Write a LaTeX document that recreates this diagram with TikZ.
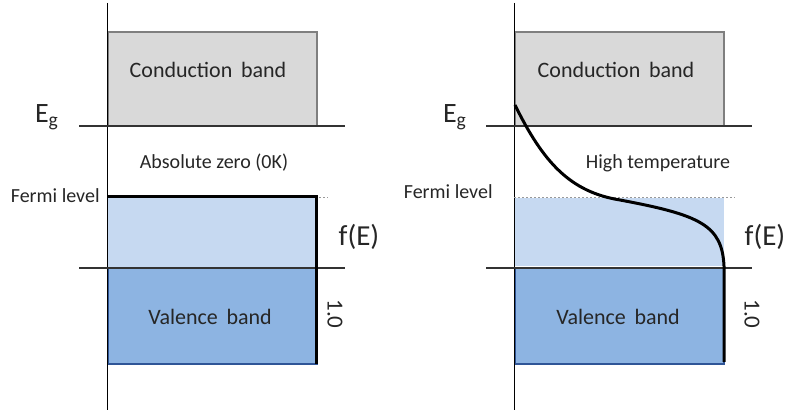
\documentclass[tikz,border=0pt]{standalone}
\usepackage{fontspec}
\setmainfont{Carlito}
\usepackage{tikz}
\usetikzlibrary{positioning,calc}
\definecolor{cbfill}{RGB}{217,217,217}
\definecolor{cbedge}{RGB}{127,127,127}
\definecolor{fermifill}{RGB}{198,217,241}
\definecolor{vbfill}{RGB}{141,180,226}
\definecolor{vbedge}{RGB}{47,85,151}
\definecolor{txt}{RGB}{38,38,38}

\begin{document}
\begin{tikzpicture}[
    x=0.5pt, y=-0.5pt,
    cband/.style={draw=cbedge, fill=cbfill, line width=1.3pt},
    vband/.style={draw=vbedge, fill=vbfill, line width=1pt},
    axis/.style={draw=black, line width=0.5pt},
    level/.style={draw=black!80, line width=0.6pt},
    fline/.style={draw=black!40, line width=0.4pt, dashed, dash pattern=on 1pt off 1pt},
    occ/.style={draw=black, line width=1.5pt},
    lbl/.style={text=txt, inner sep=1pt}
]
    \useasboundingbox (0,0) rectangle (787,415);

    % Absolute zero panel
    \fill[fermifill] (107,197) rectangle (316,267);
    \draw[cband] (108,32) rectangle (317,126);
    \draw[vband] (108,268) rectangle (317,364);
    \draw[axis] (107,3) -- (107,410);
    \draw[level] (79,126) -- (345,126);
    \draw[level] (79,268) -- (345,268);
    \draw[fline] (107,197) -- (328,197);
    \draw[occ] (107,197) -| (316,364);

    \node[lbl, font=\fontsize{11}{13}\selectfont] (cbL) at (208,70) {Conduction\ \,band};
    \node[lbl, font=\fontsize{14}{16}\selectfont] (egL) at (47,117) {E\textsubscript{g}};
    \node[lbl, font=\fontsize{10}{12}\selectfont] (tL) at (214,163) {Absolute zero (0K)};
    \node[lbl, font=\fontsize{10}{12}\selectfont, anchor=east] (efL) at (102,196) {Fermi level};
    \node[lbl, font=\fontsize{14.5}{16}\selectfont] (fL) at (359,237) {f(E)};
    \node[lbl, font=\fontsize{11}{13}\selectfont] (vbL) at (210,317) {Valence\ \,band};
    \node[lbl, font=\fontsize{11.5}{13}\selectfont, rotate=-90] (oneL) at (335,314) {1.0};

    % High temperature panel
    \begin{scope}[shift={(407,0)}]
        \fill[fermifill] (107,198) rectangle (317,266);
        \draw[cband] (108,32) rectangle (317,126);
        \draw[vband] (108,268) rectangle (317,364);
        \draw[axis] (107,3) -- (107,410);
        \draw[level] (79,126) -- (345,126);
        \draw[level] (79,268) -- (345,268);
        \draw[fline] (107,197) -- (328,197);
        \draw[occ] (108,105) .. controls (136,162) and (163,192) .. (213,200)
            .. controls (293,215) and (315,225) .. (317,266) -- (317,362);

        \node[lbl, font=\fontsize{11}{13}\selectfont] (cbR) at (209,70) {Conduction\ \,band};
        \node[lbl, font=\fontsize{14}{16}\selectfont] (egR) at (48,117) {E\textsubscript{g}};
        \node[lbl, font=\fontsize{10}{12}\selectfont] (tR) at (251,163) {High temperature};
        \node[lbl, font=\fontsize{10}{12}\selectfont, anchor=east] (efR) at (88,192) {Fermi level};
        \node[lbl, font=\fontsize{14.5}{16}\selectfont] (fR) at (358,237) {f(E)};
        \node[lbl, font=\fontsize{11}{13}\selectfont] (vbR) at (211,317) {Valence\ \,band};
        \node[lbl, font=\fontsize{11.5}{13}\selectfont, rotate=-90] (oneR) at (345,314) {1.0};
    \end{scope}
\end{tikzpicture}
\end{document}
